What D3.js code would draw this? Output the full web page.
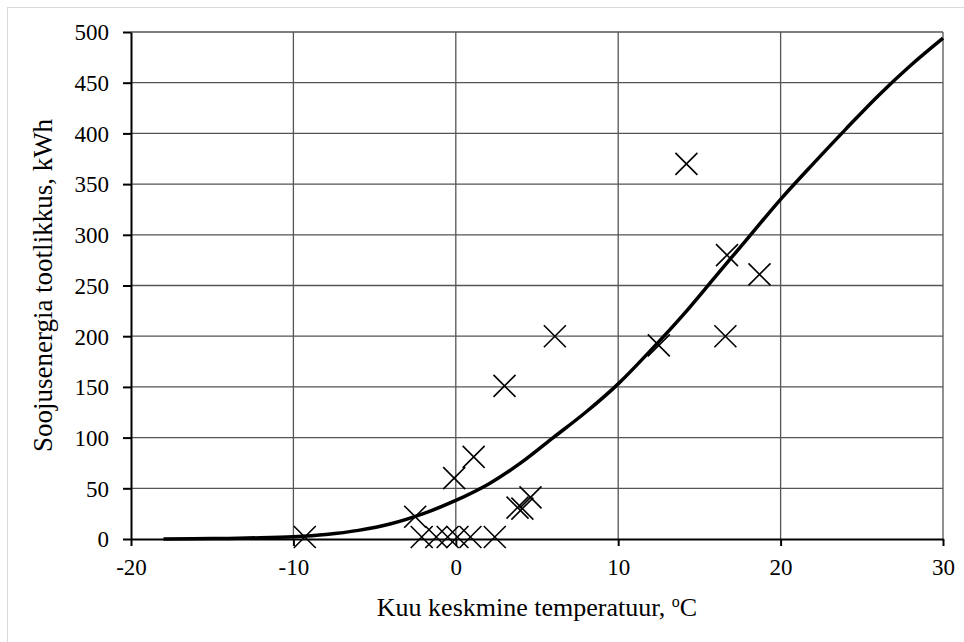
<!DOCTYPE html>
<html>
<head>
<meta charset="utf-8">
<script src="https://cdn.jsdelivr.net/npm/d3@7"></script>
<style>
  html, body { margin: 0; padding: 0; background: #fff; }
  svg { display: block; font-family: "Liberation Serif", "Times New Roman", serif; }
</style>
</head>
<body>
<svg id="chart" width="964" height="642"></svg>
<script>
// Measured monthly points (temperature °C, heat production kWh)
const pointTemp = [-9.3, -2.5, -2.1, -1.2, -0.5, 0.1, 0.9, 2.4, -0.1, 1.1, 3.8, 4.1, 4.6, 3.0, 6.1, 12.5, 14.2, 16.6, 16.7, 18.7];
const pointEnergy = [2, 22, 2, 2, 2, 2, 2, 2, 60, 81, 31, 30, 41, 151, 200, 191, 370, 200, 280, 261];

// Fitted curve
const curveTemp = [-18, -15, -12, -10, -8, -6, -4, -2, 0, 2, 4, 6, 8, 10, 12, 14, 16, 18, 20, 22, 24, 26, 28, 30];
const curveEnergy = [0, 0.4, 1.2, 2.3, 4.5, 8.5, 15, 25, 38, 54, 75, 100, 125, 153, 186, 221, 259, 297, 335, 370, 404, 437, 467, 494];

// Ticks
const xTicks = [-20, -10, 0, 10, 20, 30];
const yTicks = [0, 50, 100, 150, 200, 250, 300, 350, 400, 450, 500];

(function () {
const FONT = '"Liberation Serif", "Times New Roman", serif';
const svg = d3.select("#chart");

// outer light frame
svg.append("rect")
  .attr("x", 7.5).attr("y", 7.5).attr("width", 970).attr("height", 650)
  .attr("fill", "none").attr("stroke", "#d9d9d9").attr("stroke-width", 1);

const mLeft = 131, mRight = 943, mTop = 32, mBottom = 539;
const x = d3.scaleLinear().domain([-20, 30]).range([mLeft, mRight]);
const y = d3.scaleLinear().domain([0, 500]).range([mBottom, mTop]);

// gridlines
const grid = svg.append("g");
grid.selectAll("line.h").data(yTicks.filter(d => d > 0)).enter().append("line")
  .attr("x1", mLeft).attr("x2", mRight)
  .attr("y1", d => y(d)).attr("y2", d => y(d))
  .attr("stroke", "#555").attr("stroke-width", 1.3);
grid.selectAll("line.v").data(xTicks.filter(d => d > -20)).enter().append("line")
  .attr("y1", mTop).attr("y2", mBottom)
  .attr("x1", d => x(d)).attr("x2", d => x(d))
  .attr("stroke", "#555").attr("stroke-width", 1.3);

// axes
const fmt = d => String(d);
const xAxis = d3.axisBottom(x).tickValues(xTicks).tickFormat(fmt).tickSize(7).tickSizeOuter(0);
const yAxis = d3.axisLeft(y).tickValues(yTicks).tickFormat(fmt).tickSize(8).tickSizeOuter(0);

const gx = svg.append("g").attr("transform", `translate(0,${mBottom})`).call(xAxis);
const gy = svg.append("g").attr("transform", `translate(${mLeft},0)`).call(yAxis);

[gx, gy].forEach(g => {
  g.attr("font-family", FONT);
  g.select(".domain").attr("stroke", "#000").attr("stroke-width", 2);
  g.selectAll(".tick line").attr("stroke", "#000").attr("stroke-width", 2);
  g.selectAll(".tick text")
    .attr("fill", "#000")
    .style("font-family", FONT)
    .style("font-size", "23px");
});
gx.selectAll(".tick text").attr("y", 36).attr("dy", 0);
gy.selectAll(".tick text").attr("x", -22).attr("dy", "0.34em");

// curve
const curveData = curveTemp.map((t, i) => [t, curveEnergy[i]]);
svg.append("path")
  .datum(curveData)
  .attr("fill", "none")
  .attr("stroke", "#000")
  .attr("stroke-width", 3.5)
  .attr("d", d3.line().x(d => x(d[0])).y(d => y(d[1])).curve(d3.curveCatmullRom));

// points (crosses)
const pts = pointTemp.map((t, i) => [t, pointEnergy[i]]);
const s = 11;
svg.append("g").selectAll("path").data(pts).enter().append("path")
  .attr("d", d => {
    const cx = x(d[0]), cy = y(d[1]);
    return `M${cx - s},${cy - s}L${cx + s},${cy + s}M${cx - s},${cy + s}L${cx + s},${cy - s}`;
  })
  .attr("stroke", "#000").attr("stroke-width", 1.6).attr("fill", "none");

// axis titles
const xt = svg.append("text")
  .attr("x", 537).attr("y", 616)
  .attr("text-anchor", "middle")
  .style("font-family", FONT)
  .style("font-size", "26px")
  .attr("fill", "#000");
xt.append("tspan").text("Kuu keskmine temperatuur, ");
xt.append("tspan").text("o").attr("dy", -9).style("font-size", "16px");
xt.append("tspan").text("C").attr("dy", 9);

svg.append("text")
  .attr("transform", `translate(52,${(mTop + mBottom) / 2}) rotate(-90)`)
  .attr("text-anchor", "middle")
  .style("font-family", FONT)
  .style("font-size", "27px")
  .attr("fill", "#000")
  .text("Soojusenergia tootlikkus, kWh");
})();
</script>
</body>
</html>
